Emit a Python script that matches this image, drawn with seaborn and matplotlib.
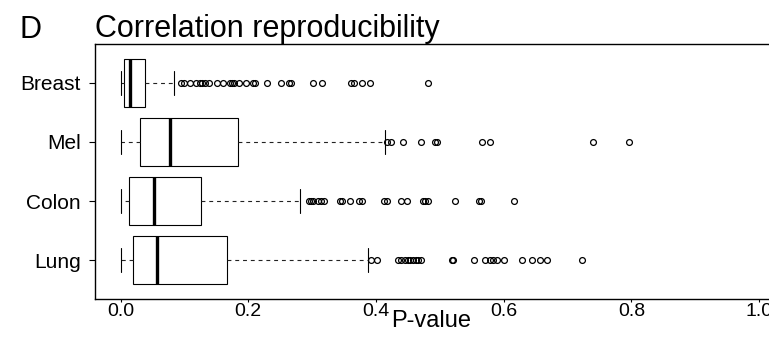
import numpy as np
import pandas as pd
import matplotlib
matplotlib.use("Agg")
import matplotlib.pyplot as plt
import seaborn as sns

# ---- data ----
sites = ["Breast", "Mel", "Colon", "Lung"]

# five-number summaries: lower whisker, Q1, median, Q3, upper whisker
whisker_lo = [0.000, 0.000, 0.000, 0.000]
q1 = [0.005, 0.030, 0.014, 0.019]
median = [0.0145, 0.078, 0.0526, 0.0578]
q3 = [0.0385, 0.1847, 0.1257, 0.1674]
whisker_hi = [0.083, 0.414, 0.2818, 0.3877]

outliers_breast = [0.094, 0.100, 0.109, 0.118, 0.124, 0.128, 0.133, 0.139,
                   0.151, 0.161, 0.171, 0.174, 0.177, 0.185, 0.196, 0.208,
                   0.210, 0.230, 0.252, 0.264, 0.267, 0.301, 0.316, 0.361,
                   0.365, 0.378, 0.390, 0.482]
outliers_mel = [0.418, 0.423, 0.443, 0.471, 0.492, 0.495, 0.566, 0.578,
                0.740, 0.797]
outliers_colon = [0.295, 0.298, 0.302, 0.310, 0.314, 0.318, 0.343, 0.347,
                  0.360, 0.373, 0.378, 0.413, 0.418, 0.440, 0.448, 0.473,
                  0.477, 0.481, 0.524, 0.561, 0.564, 0.616]
outliers_lung = [0.392, 0.401, 0.435, 0.440, 0.445, 0.450, 0.454, 0.458,
                 0.462, 0.466, 0.470, 0.519, 0.521, 0.553, 0.571, 0.579,
                 0.584, 0.589, 0.600, 0.628, 0.644, 0.657, 0.668, 0.722]
outliers = [outliers_breast, outliers_mel, outliers_colon, outliers_lung]

xticks = [0.0, 0.2, 0.4, 0.6, 0.8, 1.0]
xticklabels = ["0.0", "0.2", "0.4", "0.6", "0.8", "1.0"]

# ---- build a long table whose box statistics equal the summaries ----
M = 200  # plateau size so percentiles land exactly on the read values
rows = []
for i, s in enumerate(sites):
    vals = ([whisker_lo[i]] + [q1[i]] * M + [median[i]] * M + [q3[i]] * M
            + [whisker_hi[i]] + list(outliers[i]))
    rows += [(s, v) for v in vals]
df = pd.DataFrame(rows, columns=["site", "pvalue"])

# ---- figure ----
sns.set_theme(style="white")
plt.rcParams["font.family"] = ["Liberation Sans", "DejaVu Sans"]

W, H = 769, 338
fig = plt.figure(figsize=(W / 100, H / 100), dpi=100)
left_px, right_px, top_px, bottom_px = 95, 784.6, 44, 299
ax = fig.add_axes([left_px / W, (H - bottom_px) / H,
                   (right_px - left_px) / W, (bottom_px - top_px) / H])

sns.boxplot(data=df, x="pvalue", y="site", order=sites, orient="h",
            width=0.8, color="white", linecolor="black", linewidth=0.8,
            fliersize=4.2, ax=ax,
            whiskerprops=dict(linestyle=(0, (3.5, 3.5)), color="#222222"),
            medianprops=dict(linewidth=2.4, color="black"),
            capprops=dict(color="black"),
            flierprops=dict(marker="o", markerfacecolor="none",
                            markeredgecolor="black", markeredgewidth=0.9))

ax.set_xlim(-0.04, 1.04)
ax.set_ylim(3.66, -0.66)
ax.set_xticks(xticks)
ax.set_xticklabels(xticklabels)
for sp in ax.spines.values():
    sp.set_visible(True)
    sp.set_color("black")
    sp.set_linewidth(1.0)

ax.tick_params(axis="y", which="both", left=True, length=4, width=0.8,
               color="black", pad=6, labelsize=15, labelcolor="black")
ax.tick_params(axis="x", which="both", bottom=True, length=2, width=0.8,
               color="black", pad=1, labelsize=14, labelcolor="black")
ax.set_ylabel("")
ax.set_xlabel("P-value", fontsize=17, color="black")
ax.xaxis.set_label_coords((431 - left_px) / (right_px - left_px),
                          -(310 - bottom_px) / (bottom_px - top_px))

fig.text(20 / W, 1 - 38 / H, "D", fontsize=22, color="black",
         ha="left", va="baseline")
fig.text(95 / W, 1 - 37 / H, "Correlation reproducibility", fontsize=22,
         color="black", ha="left", va="baseline")

fig.savefig("out.png", dpi=100)
